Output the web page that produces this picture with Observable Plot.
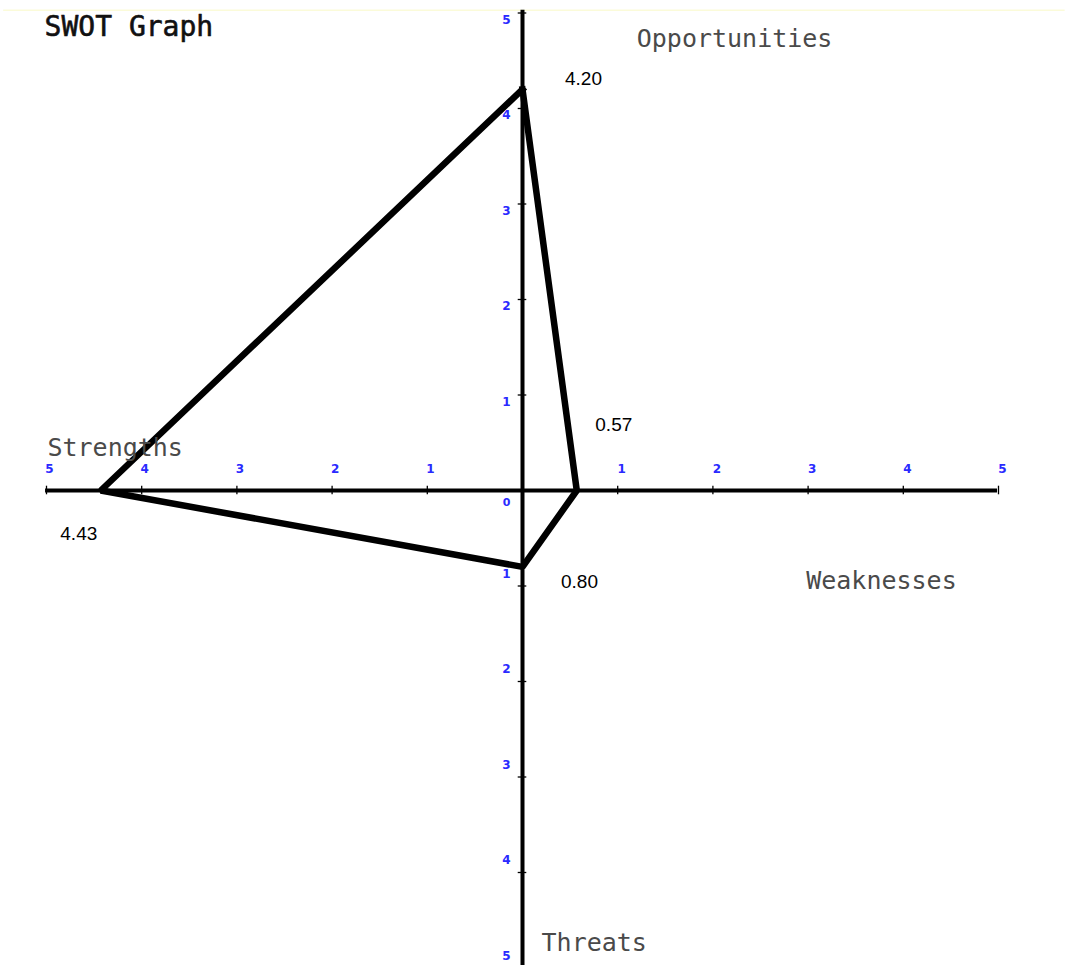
<!DOCTYPE html>
<html>
<head>
<meta charset="utf-8">
<script src="https://cdn.jsdelivr.net/npm/d3@7"></script>
<script src="https://cdn.jsdelivr.net/npm/@observablehq/plot@0.6"></script>
<style>
  html, body { margin: 0; padding: 0; background: #fff; }
</style>
</head>
<body>
<div id="chart"></div>
<script>
// ---- data ----
const title = "SWOT Graph";
const quadrants = ["Strengths", "Weaknesses", "Opportunities", "Threats"];
const scores = [4.43, 0.57, 4.20, 0.80];           // S, W, O, T
const scoreLabels = ["4.43", "0.57", "4.20", "0.80"];
const tickValues = [1, 2, 3, 4, 5];

// polygon vertices: S on left (-x), W on right (+x), O up (+y), T down (-y)
const S = {x: -scores[0], y: 0, label: scoreLabels[0]};
const W = {x: scores[1], y: 0, label: scoreLabels[1]};
const O = {x: 0, y: scores[2], label: scoreLabels[2]};
const T = {x: 0, y: -scores[3], label: scoreLabels[3]};
const polygon = [O, W, T, S, O];

const xTicksNeg = tickValues.map(v => -v);
const xTicksPos = tickValues;
const yTicksPos = tickValues;
const yTicksNeg = tickValues.map(v => -v);

const blue = "#2a2aff";
const tickFont = "DejaVu Sans, sans-serif";
const monoFont = "DejaVu Sans Mono, monospace";
const numFont = "Liberation Sans, Arial, sans-serif";

const chart = Plot.plot({
  width: 1065,
  height: 965,
  margin: 0,
  x: {domain: [-5, 5], range: [46, 998], axis: null},
  y: {domain: [-5, 5], range: [967.5, 12.5], axis: null},
  style: {background: "#fff", overflow: "visible"},
  marks: [
    // faint top border
    Plot.ruleY([5.03], {x1: -5.45, x2: 5.7, stroke: "#fbfbd9", strokeWidth: 1.5}),
    // axes
    Plot.ruleY([0], {x1: -5.01, x2: 4.99, stroke: "#000", strokeWidth: 4}),
    Plot.ruleX([0], {y1: -5.1, y2: 5.03, stroke: "#000", strokeWidth: 4}),
    // tick marks
    Plot.ruleX([...xTicksNeg, ...xTicksPos], {y1: -0.045, y2: 0.045, stroke: "#000", strokeWidth: 1.3}),
    Plot.ruleY([...yTicksPos, ...yTicksNeg], {x1: -0.045, x2: 0.045, stroke: "#000", strokeWidth: 1.3}),
    // x tick labels
    Plot.text(xTicksNeg, {x: d => d, y: 0, text: d => String(Math.abs(d)), dx: 3, dy: -21,
      fill: blue, fontSize: 12, fontWeight: "bold", fontFamily: tickFont}),
    Plot.text(xTicksPos, {x: d => d, y: 0, text: d => String(d), dx: 4, dy: -21,
      fill: blue, fontSize: 12, fontWeight: "bold", fontFamily: tickFont}),
    // y tick labels
    Plot.text(yTicksPos, {x: 0, y: d => d, text: d => String(d), dx: -16, dy: 7,
      fill: blue, fontSize: 12, fontWeight: "bold", fontFamily: tickFont}),
    Plot.text(yTicksNeg, {x: 0, y: d => d, text: d => String(Math.abs(d)), dx: -16, dy: -12,
      fill: blue, fontSize: 12, fontWeight: "bold", fontFamily: tickFont}),
    Plot.text(["0"], {x: 0, y: 0, text: d => d, dx: -16, dy: 12,
      fill: blue, fontSize: 11, fontWeight: "bold", fontFamily: tickFont}),
    // SWOT polygon
    Plot.line(polygon, {x: "x", y: "y", stroke: "#000", strokeWidth: 6.5,
      strokeLinejoin: "miter", strokeLinecap: "square", curve: "linear"}),
    // value labels
    Plot.text([O], {x: "x", y: "y", text: "label", dx: 61, dy: -10, fill: "#000",
      fontSize: 19, fontFamily: numFont}),
    Plot.text([W], {x: "x", y: "y", text: "label", dx: 37, dy: -66, fill: "#000",
      fontSize: 19, fontFamily: numFont}),
    Plot.text([T], {x: "x", y: "y", text: "label", dx: 57, dy: 15, fill: "#000",
      fontSize: 19, fontFamily: numFont}),
    Plot.text([S], {x: "x", y: "y", text: "label", dx: -22, dy: 43, fill: "#000",
      fontSize: 19, fontFamily: numFont}),
    // quadrant labels
    Plot.text([quadrants[0]], {x: -4.99, y: 0.45, text: d => d, textAnchor: "start",
      fill: "#4a4a4a", fontSize: 25, fontFamily: monoFont}),
    Plot.text([quadrants[1]], {x: 2.98, y: -0.95, text: d => d, textAnchor: "start",
      fill: "#4a4a4a", fontSize: 25, fontFamily: monoFont}),
    Plot.text([quadrants[2]], {x: 1.2, y: 4.73, text: d => d, textAnchor: "start",
      fill: "#4a4a4a", fontSize: 25, fontFamily: monoFont}),
    Plot.text([quadrants[3]], {x: 0.2, y: -4.74, text: d => d, textAnchor: "start",
      fill: "#4a4a4a", fontSize: 25, fontFamily: monoFont}),
    // title
    Plot.text([title], {x: -5.02, y: 4.85, text: d => d, textAnchor: "start",
      fill: "#111", stroke: "#111", strokeWidth: 0.6, fontSize: 28, fontFamily: monoFont})
  ]
});

document.getElementById("chart").appendChild(chart);
</script>
</body>
</html>
